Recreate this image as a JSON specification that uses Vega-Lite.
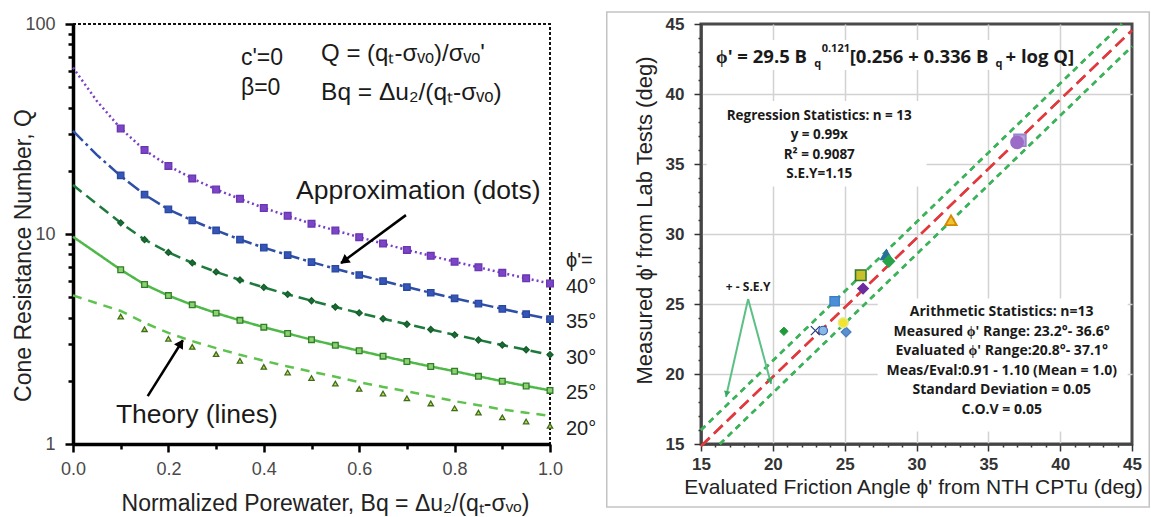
{
  "$schema": "https://vega.github.io/schema/vega-lite/v6.json",
  "background": "white",
  "padding": {"left": 11, "top": 9, "right": 0, "bottom": 0},
  "bounds": "flush",
  "spacing": 151,
  "resolve": {"scale": {"color": "independent", "strokeDash": "independent", "shape": "independent", "fill": "independent", "stroke": "independent", "size": "independent", "strokeWidth": "independent"}},
  "datasets": {
    "theory": [
      {"phi":"40°","Bq":0,"Q":62},{"phi":"40°","Bq":0.05,"Q":43},{"phi":"40°","Bq":0.1,"Q":31.8},{"phi":"40°","Bq":0.15,"Q":25.1},{"phi":"40°","Bq":0.2,"Q":21.1},{"phi":"40°","Bq":0.25,"Q":18.4},{"phi":"40°","Bq":0.3,"Q":16.3},{"phi":"40°","Bq":0.35,"Q":14.7},{"phi":"40°","Bq":0.4,"Q":13.3},{"phi":"40°","Bq":0.45,"Q":12.2},{"phi":"40°","Bq":0.5,"Q":11.2},{"phi":"40°","Bq":0.55,"Q":10.4},{"phi":"40°","Bq":0.6,"Q":9.66},{"phi":"40°","Bq":0.65,"Q":9.0},{"phi":"40°","Bq":0.7,"Q":8.4},{"phi":"40°","Bq":0.75,"Q":7.87},{"phi":"40°","Bq":0.8,"Q":7.38},{"phi":"40°","Bq":0.85,"Q":6.94},{"phi":"40°","Bq":0.9,"Q":6.53},{"phi":"40°","Bq":0.95,"Q":6.15},{"phi":"40°","Bq":1,"Q":5.81},
      {"phi":"35°","Bq":0,"Q":31},{"phi":"35°","Bq":0.05,"Q":23.8},{"phi":"35°","Bq":0.1,"Q":18.9},{"phi":"35°","Bq":0.15,"Q":15.4},{"phi":"35°","Bq":0.2,"Q":13.1},{"phi":"35°","Bq":0.25,"Q":11.6},{"phi":"35°","Bq":0.3,"Q":10.4},{"phi":"35°","Bq":0.35,"Q":9.41},{"phi":"35°","Bq":0.4,"Q":8.61},{"phi":"35°","Bq":0.45,"Q":7.94},{"phi":"35°","Bq":0.5,"Q":7.35},{"phi":"35°","Bq":0.55,"Q":6.83},{"phi":"35°","Bq":0.6,"Q":6.38},{"phi":"35°","Bq":0.65,"Q":5.97},{"phi":"35°","Bq":0.7,"Q":5.59},{"phi":"35°","Bq":0.75,"Q":5.25},{"phi":"35°","Bq":0.8,"Q":4.94},{"phi":"35°","Bq":0.85,"Q":4.66},{"phi":"35°","Bq":0.9,"Q":4.4},{"phi":"35°","Bq":0.95,"Q":4.15},{"phi":"35°","Bq":1,"Q":3.93},
      {"phi":"30°","Bq":0,"Q":17.1},{"phi":"30°","Bq":0.05,"Q":13.9},{"phi":"30°","Bq":0.1,"Q":11.3},{"phi":"30°","Bq":0.15,"Q":9.4},{"phi":"30°","Bq":0.2,"Q":8.17},{"phi":"30°","Bq":0.25,"Q":7.29},{"phi":"30°","Bq":0.3,"Q":6.6},{"phi":"30°","Bq":0.35,"Q":6.04},{"phi":"30°","Bq":0.4,"Q":5.57},{"phi":"30°","Bq":0.45,"Q":5.16},{"phi":"30°","Bq":0.5,"Q":4.81},{"phi":"30°","Bq":0.55,"Q":4.49},{"phi":"30°","Bq":0.6,"Q":4.21},{"phi":"30°","Bq":0.65,"Q":3.95},{"phi":"30°","Bq":0.7,"Q":3.72},{"phi":"30°","Bq":0.75,"Q":3.51},{"phi":"30°","Bq":0.8,"Q":3.31},{"phi":"30°","Bq":0.85,"Q":3.13},{"phi":"30°","Bq":0.9,"Q":2.96},{"phi":"30°","Bq":0.95,"Q":2.81},{"phi":"30°","Bq":1,"Q":2.66},
      {"phi":"25°","Bq":0,"Q":9.7},{"phi":"25°","Bq":0.05,"Q":8.1},{"phi":"25°","Bq":0.1,"Q":6.76},{"phi":"25°","Bq":0.15,"Q":5.75},{"phi":"25°","Bq":0.2,"Q":5.09},{"phi":"25°","Bq":0.25,"Q":4.6},{"phi":"25°","Bq":0.3,"Q":4.2},{"phi":"25°","Bq":0.35,"Q":3.88},{"phi":"25°","Bq":0.4,"Q":3.6},{"phi":"25°","Bq":0.45,"Q":3.36},{"phi":"25°","Bq":0.5,"Q":3.14},{"phi":"25°","Bq":0.55,"Q":2.95},{"phi":"25°","Bq":0.6,"Q":2.78},{"phi":"25°","Bq":0.65,"Q":2.62},{"phi":"25°","Bq":0.7,"Q":2.47},{"phi":"25°","Bq":0.75,"Q":2.34},{"phi":"25°","Bq":0.8,"Q":2.22},{"phi":"25°","Bq":0.85,"Q":2.1},{"phi":"25°","Bq":0.9,"Q":1.99},{"phi":"25°","Bq":0.95,"Q":1.89},{"phi":"25°","Bq":1,"Q":1.8},
      {"phi":"20°","Bq":0,"Q":5.1},{"phi":"20°","Bq":0.05,"Q":4.68},{"phi":"20°","Bq":0.1,"Q":4.3},{"phi":"20°","Bq":0.15,"Q":3.78},{"phi":"20°","Bq":0.2,"Q":3.38},{"phi":"20°","Bq":0.25,"Q":3.09},{"phi":"20°","Bq":0.3,"Q":2.86},{"phi":"20°","Bq":0.35,"Q":2.66},{"phi":"20°","Bq":0.4,"Q":2.49},{"phi":"20°","Bq":0.45,"Q":2.34},{"phi":"20°","Bq":0.5,"Q":2.21},{"phi":"20°","Bq":0.55,"Q":2.09},{"phi":"20°","Bq":0.6,"Q":1.97},{"phi":"20°","Bq":0.65,"Q":1.87},{"phi":"20°","Bq":0.7,"Q":1.78},{"phi":"20°","Bq":0.75,"Q":1.69},{"phi":"20°","Bq":0.8,"Q":1.6},{"phi":"20°","Bq":0.85,"Q":1.53},{"phi":"20°","Bq":0.9,"Q":1.46},{"phi":"20°","Bq":0.95,"Q":1.41},{"phi":"20°","Bq":1,"Q":1.36}
    ],
    "approx": [
      {"phi":"40°","Bq":0.1,"Q":31.8},{"phi":"40°","Bq":0.15,"Q":25.1},{"phi":"40°","Bq":0.2,"Q":21.1},{"phi":"40°","Bq":0.25,"Q":18.4},{"phi":"40°","Bq":0.3,"Q":16.3},{"phi":"40°","Bq":0.35,"Q":14.7},{"phi":"40°","Bq":0.4,"Q":13.3},{"phi":"40°","Bq":0.45,"Q":12.2},{"phi":"40°","Bq":0.5,"Q":11.2},{"phi":"40°","Bq":0.55,"Q":10.4},{"phi":"40°","Bq":0.6,"Q":9.66},{"phi":"40°","Bq":0.65,"Q":9.0},{"phi":"40°","Bq":0.7,"Q":8.4},{"phi":"40°","Bq":0.75,"Q":7.87},{"phi":"40°","Bq":0.8,"Q":7.38},{"phi":"40°","Bq":0.85,"Q":6.94},{"phi":"40°","Bq":0.9,"Q":6.53},{"phi":"40°","Bq":0.95,"Q":6.15},{"phi":"40°","Bq":1,"Q":5.81},
      {"phi":"35°","Bq":0.1,"Q":19.0},{"phi":"35°","Bq":0.15,"Q":15.4},{"phi":"35°","Bq":0.2,"Q":13.1},{"phi":"35°","Bq":0.25,"Q":11.6},{"phi":"35°","Bq":0.3,"Q":10.4},{"phi":"35°","Bq":0.35,"Q":9.41},{"phi":"35°","Bq":0.4,"Q":8.61},{"phi":"35°","Bq":0.45,"Q":7.94},{"phi":"35°","Bq":0.5,"Q":7.35},{"phi":"35°","Bq":0.55,"Q":6.83},{"phi":"35°","Bq":0.6,"Q":6.38},{"phi":"35°","Bq":0.65,"Q":5.97},{"phi":"35°","Bq":0.7,"Q":5.59},{"phi":"35°","Bq":0.75,"Q":5.25},{"phi":"35°","Bq":0.8,"Q":4.94},{"phi":"35°","Bq":0.85,"Q":4.66},{"phi":"35°","Bq":0.9,"Q":4.4},{"phi":"35°","Bq":0.95,"Q":4.15},{"phi":"35°","Bq":1,"Q":3.93},
      {"phi":"30°","Bq":0.1,"Q":11.3},{"phi":"30°","Bq":0.15,"Q":9.4},{"phi":"30°","Bq":0.2,"Q":8.17},{"phi":"30°","Bq":0.25,"Q":7.29},{"phi":"30°","Bq":0.3,"Q":6.6},{"phi":"30°","Bq":0.35,"Q":6.04},{"phi":"30°","Bq":0.4,"Q":5.57},{"phi":"30°","Bq":0.45,"Q":5.16},{"phi":"30°","Bq":0.5,"Q":4.81},{"phi":"30°","Bq":0.55,"Q":4.49},{"phi":"30°","Bq":0.6,"Q":4.21},{"phi":"30°","Bq":0.65,"Q":3.95},{"phi":"30°","Bq":0.7,"Q":3.72},{"phi":"30°","Bq":0.75,"Q":3.51},{"phi":"30°","Bq":0.8,"Q":3.31},{"phi":"30°","Bq":0.85,"Q":3.13},{"phi":"30°","Bq":0.9,"Q":2.96},{"phi":"30°","Bq":0.95,"Q":2.81},{"phi":"30°","Bq":1,"Q":2.66},
      {"phi":"25°","Bq":0.1,"Q":6.76},{"phi":"25°","Bq":0.15,"Q":5.75},{"phi":"25°","Bq":0.2,"Q":5.09},{"phi":"25°","Bq":0.25,"Q":4.6},{"phi":"25°","Bq":0.3,"Q":4.2},{"phi":"25°","Bq":0.35,"Q":3.88},{"phi":"25°","Bq":0.4,"Q":3.6},{"phi":"25°","Bq":0.45,"Q":3.36},{"phi":"25°","Bq":0.5,"Q":3.14},{"phi":"25°","Bq":0.55,"Q":2.95},{"phi":"25°","Bq":0.6,"Q":2.78},{"phi":"25°","Bq":0.65,"Q":2.62},{"phi":"25°","Bq":0.7,"Q":2.47},{"phi":"25°","Bq":0.75,"Q":2.34},{"phi":"25°","Bq":0.8,"Q":2.22},{"phi":"25°","Bq":0.85,"Q":2.1},{"phi":"25°","Bq":0.9,"Q":1.99},{"phi":"25°","Bq":0.95,"Q":1.89},{"phi":"25°","Bq":1,"Q":1.8},
      {"phi":"20°","Bq":0.1,"Q":4.04},{"phi":"20°","Bq":0.15,"Q":3.52},{"phi":"20°","Bq":0.2,"Q":3.17},{"phi":"20°","Bq":0.25,"Q":2.9},{"phi":"20°","Bq":0.3,"Q":2.68},{"phi":"20°","Bq":0.35,"Q":2.49},{"phi":"20°","Bq":0.4,"Q":2.33},{"phi":"20°","Bq":0.45,"Q":2.19},{"phi":"20°","Bq":0.5,"Q":2.06},{"phi":"20°","Bq":0.55,"Q":1.94},{"phi":"20°","Bq":0.6,"Q":1.83},{"phi":"20°","Bq":0.65,"Q":1.74},{"phi":"20°","Bq":0.7,"Q":1.65},{"phi":"20°","Bq":0.75,"Q":1.56},{"phi":"20°","Bq":0.8,"Q":1.48},{"phi":"20°","Bq":0.85,"Q":1.41},{"phi":"20°","Bq":0.9,"Q":1.34},{"phi":"20°","Bq":0.95,"Q":1.28},{"phi":"20°","Bq":1,"Q":1.22}
    ],
    "diag": [
      {"line":"fit","ev":15,"me":14.85},{"line":"fit","ev":45,"me":44.55},
      {"line":"upper","ev":15,"me":16.0},{"line":"upper","ev":44.29,"me":45},
      {"line":"lower","ev":16.31,"me":15},{"line":"lower","ev":45,"me":43.4}
    ],
    "lab": [
      {"id":"A","ev":20.77,"me":23.05},
      {"id":"B","ev":23.5,"me":23.1},
      {"id":"C","ev":22.96,"me":23.1},
      {"id":"D","ev":24.3,"me":25.2},
      {"id":"E","ev":25.1,"me":23.0},
      {"id":"F","ev":24.9,"me":23.66},
      {"id":"G","ev":26.28,"me":26.1},
      {"id":"H","ev":26.12,"me":27.05},
      {"id":"I","ev":27.9,"me":28.52},
      {"id":"J","ev":28.07,"me":28.05},
      {"id":"K","ev":32.4,"me":30.98},
      {"id":"L","ev":37.2,"me":36.69},
      {"id":"M","ev":37.0,"me":36.55}
    ]
  },
  "hconcat": [
    {
      "width": 477,
      "height": 420,
      "view": {"stroke": "#111", "strokeWidth": 2, "strokeDash": [3, 2]},
      "layer": [
        {
          "data": {"name": "theory"},
          "mark": {"type": "line", "strokeWidth": 2.5},
          "encoding": {
            "x": {"field": "Bq", "type": "quantitative",
              "scale": {"domain": [0, 1], "nice": false, "zero": false},
              "axis": {
                "values": [0, 0.1, 0.2, 0.3, 0.4, 0.5, 0.6, 0.7, 0.8, 0.9, 1.0],
                "tickCount": 100,
                "format": ".1f",
                "labelExpr": "round(datum.value*10) % 2 == 0 ? datum.label : ''",
                "tickSize": {"condition": {"test": "round(datum.value*10) % 2 == 0", "value": 8}, "value": 5},
                "tickWidth": 2.5, "tickColor": "#000", "domainColor": "#000", "domainWidth": 3.5,
                "labelFont": "Liberation Sans", "labelFontSize": 18, "labelColor": "#4a4a4a", "labelPadding": 8,
                "labelOverlap": false, "labelFlush": false, "grid": false,
                "title": "Normalized Porewater, Bq = Δu₂/(qₜ-σᵥₒ)",
                "titleFont": "Liberation Sans", "titleFontSize": 23, "titleFontWeight": "normal", "titleColor": "#222",
                "titleX": 252, "titleY": 59, "titleBaseline": "middle", "titleAlign": "center"
              }
            },
            "y": {"field": "Q", "type": "quantitative",
              "scale": {"type": "log", "domain": [1, 100], "nice": false},
              "axis": {
                "values": [1, 2, 3, 4, 5, 6, 7, 8, 9, 10, 20, 30, 40, 50, 60, 70, 80, 90, 100],
                "tickCount": 100,
                "format": "d",
                "labelExpr": "(datum.value == 1 || datum.value == 10 || datum.value == 100) ? datum.label : ''",
                "tickSize": {"condition": {"test": "datum.value == 1 || datum.value == 10 || datum.value == 100", "value": 8}, "value": 5},
                "tickWidth": 2.5, "tickColor": "#000", "domainColor": "#000", "domainWidth": 3.5,
                "labelFont": "Liberation Sans", "labelFontSize": 18, "labelColor": "#4a4a4a", "labelPadding": 10,
                "labelOverlap": false, "labelFlush": false, "grid": false,
                "title": "Cone Resistance Number, Q",
                "titleFont": "Liberation Sans", "titleFontSize": 23, "titleFontWeight": "normal", "titleColor": "#222",
                "titleX": -50, "titleY": 231, "titleAngle": -90, "titleAlign": "center", "titleBaseline": "middle"
              }
            },
            "color": {"field": "phi", "type": "nominal",
              "scale": {"domain": ["40°", "35°", "30°", "25°", "20°"], "range": ["#7b3fc4", "#2f4fa6", "#1d7a3c", "#4fb848", "#5ec24e"]},
              "legend": null},
            "strokeDash": {"field": "phi", "type": "nominal",
              "scale": {"domain": ["40°", "35°", "30°", "25°", "20°"], "range": [[2, 3], [14, 4, 3, 4], [11, 6], [1, 0], [9, 7]]},
              "legend": null}
          }
        },
        {
          "data": {"name": "approx"},
          "mark": {"type": "point", "filled": true, "strokeWidth": 1.3, "opacity": 1},
          "encoding": {
            "x": {"field": "Bq", "type": "quantitative"},
            "y": {"field": "Q", "type": "quantitative"},
            "shape": {"field": "phi", "type": "nominal",
              "scale": {"domain": ["40°", "35°", "30°", "25°", "20°"], "range": ["square", "square", "diamond", "square", "triangle-up"]},
              "legend": null},
            "fill": {"field": "phi", "type": "nominal",
              "scale": {"domain": ["40°", "35°", "30°", "25°", "20°"], "range": ["#7b45c8", "#3556b8", "#1a6e35", "#8fd070", "#c9d84c"]},
              "legend": null},
            "stroke": {"field": "phi", "type": "nominal",
              "scale": {"domain": ["40°", "35°", "30°", "25°", "20°"], "range": ["#6a35b0", "#2a48a0", "#155c2a", "#2f7f2a", "#3b6e1c"]},
              "legend": null},
            "size": {"field": "phi", "type": "nominal",
              "scale": {"domain": ["40°", "35°", "30°", "25°", "20°"], "range": [45, 28, 45, 55, 55]},
              "legend": null}
          }
        },
        {
          "data": {"name": "approx"},
          "transform": [{"filter": "datum.Bq == 1"}],
          "mark": {"type": "text", "align": "left", "baseline": "middle", "dx": 16, "dy": 3, "font": "Liberation Sans", "fontSize": 20, "color": "#222"},
          "encoding": {
            "x": {"field": "Bq", "type": "quantitative"},
            "y": {"field": "Q", "type": "quantitative"},
            "text": {"field": "phi", "type": "nominal"}
          }
        },
        {
          "data": {"values": [{}]},
          "mark": {"type": "text", "text": "ϕ'=", "align": "left", "baseline": "middle", "dx": 16, "font": "Liberation Sans", "fontSize": 20, "color": "#222"},
          "encoding": {"x": {"datum": 1, "type": "quantitative"}, "y": {"datum": 7.4, "type": "quantitative"}}
        },
        {
          "data": {"values": [{}]},
          "mark": {"type": "text", "text": "c'=0", "align": "left", "baseline": "middle", "font": "Liberation Sans", "fontSize": 23, "color": "#1a1a1a"},
          "encoding": {"x": {"datum": 0.352, "type": "quantitative"}, "y": {"datum": 68.9, "type": "quantitative"}}
        },
        {
          "data": {"values": [{}]},
          "mark": {"type": "text", "text": "β=0", "align": "left", "baseline": "middle", "font": "Liberation Sans", "fontSize": 23, "color": "#1a1a1a"},
          "encoding": {"x": {"datum": 0.352, "type": "quantitative"}, "y": {"datum": 49.6, "type": "quantitative"}}
        },
        {
          "data": {"values": [{}]},
          "mark": {"type": "text", "text": "Q = (qₜ-σᵥₒ)/σᵥₒ'", "align": "left", "baseline": "middle", "font": "Liberation Sans", "fontSize": 24, "color": "#1a1a1a"},
          "encoding": {"x": {"datum": 0.52, "type": "quantitative"}, "y": {"datum": 72, "type": "quantitative"}}
        },
        {
          "data": {"values": [{}]},
          "mark": {"type": "text", "text": "Bq = Δu₂/(qₜ-σᵥₒ)", "align": "left", "baseline": "middle", "font": "Liberation Sans", "fontSize": 24.5, "color": "#1a1a1a"},
          "encoding": {"x": {"datum": 0.52, "type": "quantitative"}, "y": {"datum": 46.9, "type": "quantitative"}}
        },
        {
          "data": {"values": [{}]},
          "mark": {"type": "text", "text": "Approximation (dots)", "align": "left", "baseline": "middle", "font": "Liberation Sans", "fontSize": 26.5, "color": "#1a1a1a"},
          "encoding": {"x": {"datum": 0.4675, "type": "quantitative"}, "y": {"datum": 16.0, "type": "quantitative"}}
        },
        {
          "data": {"values": [{}]},
          "mark": {"type": "text", "text": "Theory (lines)", "align": "left", "baseline": "middle", "font": "Liberation Sans", "fontSize": 26.5, "color": "#1a1a1a"},
          "encoding": {"x": {"datum": 0.09, "type": "quantitative"}, "y": {"datum": 1.37, "type": "quantitative"}}
        },
        {
          "data": {"values": [{}]},
          "mark": {"type": "rule", "color": "#000", "strokeWidth": 2.5},
          "encoding": {"x": {"datum": 0.698, "type": "quantitative"}, "y": {"datum": 12.3, "type": "quantitative"}, "x2": {"datum": 0.562}, "y2": {"datum": 7.28}}
        },
        {
          "data": {"values": [{}]},
          "mark": {"type": "point", "shape": "triangle-up", "filled": true, "color": "#000", "opacity": 1, "size": 110, "angle": 233.6, "xOffset": 3, "yOffset": -2},
          "encoding": {"x": {"datum": 0.562, "type": "quantitative"}, "y": {"datum": 7.28, "type": "quantitative"}}
        },
        {
          "data": {"values": [{}]},
          "mark": {"type": "rule", "color": "#000", "strokeWidth": 2.5},
          "encoding": {"x": {"datum": 0.1566, "type": "quantitative"}, "y": {"datum": 1.69, "type": "quantitative"}, "x2": {"datum": 0.2303}, "y2": {"datum": 3.12}}
        },
        {
          "data": {"values": [{}]},
          "mark": {"type": "point", "shape": "triangle-up", "filled": true, "color": "#000", "opacity": 1, "size": 110, "angle": 32, "xOffset": -2, "yOffset": 3},
          "encoding": {"x": {"datum": 0.2303, "type": "quantitative"}, "y": {"datum": 3.12, "type": "quantitative"}}
        }
      ]
    },
    {
      "width": 431,
      "height": 420,
      "view": {"stroke": "#4a4a4a", "strokeWidth": 3},
      "layer": [
        {
          "data": {"name": "diag"},
          "mark": {"type": "line", "strokeWidth": 2.5},
          "encoding": {
            "x": {"field": "ev", "type": "quantitative",
              "scale": {"domain": [15, 45], "nice": false, "zero": false},
              "axis": {
                "values": [15,16,17,18,19,20,21,22,23,24,25,26,27,28,29,30,31,32,33,34,35,36,37,38,39,40,41,42,43,44,45],
                "tickCount": 100,
                "format": "d",
                "labelExpr": "datum.value % 5 == 0 ? datum.label : ''",
                "tickSize": {"condition": {"test": "datum.value % 5 == 0", "value": 7}, "value": 3},
                "tickWidth": 1.5, "tickColor": "#333", "domainColor": "#444", "domainWidth": 2.5,
                "labelFont": "Liberation Sans", "labelFontWeight": "bold", "labelFontSize": 17, "labelColor": "#333", "labelPadding": 5,
                "labelOverlap": false, "labelFlush": false,
                "grid": true, "gridColor": "#d2d2d2", "gridWidth": 1.5,
                "gridOpacity": {"condition": {"test": "datum.value % 5 == 0 && datum.value > 15 && datum.value < 45", "value": 1}, "value": 0},
                "title": "Evaluated Friction Angle ϕ' from NTH CPTu (deg)",
                "titleFont": "Liberation Sans", "titleFontSize": 21, "titleFontWeight": "normal", "titleColor": "#222",
                "titleX": 212, "titleY": 43, "titleBaseline": "middle", "titleAlign": "center"
              }
            },
            "y": {"field": "me", "type": "quantitative",
              "scale": {"domain": [15, 45], "nice": false, "zero": false},
              "axis": {
                "values": [15,16,17,18,19,20,21,22,23,24,25,26,27,28,29,30,31,32,33,34,35,36,37,38,39,40,41,42,43,44,45],
                "tickCount": 100,
                "format": "d",
                "labelExpr": "datum.value % 5 == 0 ? datum.label : ''",
                "tickSize": {"condition": {"test": "datum.value % 5 == 0", "value": 7}, "value": 3},
                "tickWidth": 1.5, "tickColor": "#333", "domainColor": "#444", "domainWidth": 2.5,
                "labelFont": "Liberation Sans", "labelFontWeight": "bold", "labelFontSize": 17, "labelColor": "#333", "labelPadding": 10,
                "labelOverlap": false, "labelFlush": false,
                "grid": true, "gridColor": "#d2d2d2", "gridWidth": 1.5,
                "gridOpacity": {"condition": {"test": "datum.value % 5 == 0 && datum.value > 15 && datum.value < 45", "value": 1}, "value": 0},
                "title": "Measured ϕ' from Lab Tests  (deg)",
                "titleFont": "Liberation Sans", "titleFontSize": 22, "titleFontWeight": "normal", "titleColor": "#222",
                "titleX": -57, "titleY": 196, "titleAngle": -90, "titleAlign": "center", "titleBaseline": "middle"
              }
            },
            "color": {"field": "line", "type": "nominal",
              "scale": {"domain": ["fit", "upper", "lower"], "range": ["#e03a3e", "#3cb25a", "#3cb25a"]},
              "legend": null},
            "strokeDash": {"field": "line", "type": "nominal",
              "scale": {"domain": ["fit", "upper", "lower"], "range": [[12, 6], [6, 5], [6, 5]]},
              "legend": null}
          }
        },
        {
          "data": {"values": [{}]},
          "mark": {"type": "rect", "filled": false, "color": "#c4c4c4", "strokeWidth": 1.5},
          "encoding": {"x": {"datum": 8.44, "type": "quantitative"}, "x2": {"datum": 46.2}, "y": {"datum": 10.5, "type": "quantitative"}, "y2": {"datum": 45.86}}
        },
        {
          "data": {"values": [{}]},
          "mark": {"type": "rect", "color": "white"},
          "encoding": {"x": {"datum": 16.0, "type": "quantitative"}, "x2": {"datum": 38.2}, "y": {"datum": 43.86, "type": "quantitative"}, "y2": {"datum": 41.71}}
        },
        {
          "data": {"values": [{}]},
          "mark": {"type": "rect", "color": "white"},
          "encoding": {"x": {"datum": 15.4, "type": "quantitative"}, "x2": {"datum": 30.7}, "y": {"datum": 39.5, "type": "quantitative"}, "y2": {"datum": 33.4}}
        },
        {
          "data": {"values": [{}]},
          "mark": {"type": "rect", "color": "white"},
          "encoding": {"x": {"datum": 27.3, "type": "quantitative"}, "x2": {"datum": 44.7}, "y": {"datum": 25.4, "type": "quantitative"}, "y2": {"datum": 15.9}}
        },
        {
          "data": {"name": "diag"},
          "mark": {"type": "line", "strokeWidth": 2.5},
          "encoding": {
            "x": {"field": "ev", "type": "quantitative"},
            "y": {"field": "me", "type": "quantitative"},
            "color": {"field": "line", "type": "nominal", "legend": null},
            "strokeDash": {"field": "line", "type": "nominal", "legend": null}
          }
        },
        {
          "data": {"values": [{}]},
          "mark": {"type": "rule", "color": "#5cbf86", "strokeWidth": 2},
          "encoding": {"x": {"datum": 18.28, "type": "quantitative"}, "y": {"datum": 25.36, "type": "quantitative"}, "x2": {"datum": 16.74}, "y2": {"datum": 18.36}}
        },
        {
          "data": {"values": [{}]},
          "mark": {"type": "rule", "color": "#5cbf86", "strokeWidth": 2},
          "encoding": {"x": {"datum": 18.28, "type": "quantitative"}, "y": {"datum": 25.36, "type": "quantitative"}, "x2": {"datum": 19.88}, "y2": {"datum": 19.29}}
        },
        {
          "data": {"values": [{}]},
          "mark": {"type": "point", "shape": "triangle-up", "filled": true, "color": "#3aa860", "opacity": 1, "size": 45, "angle": 192.6, "xOffset": 0.7, "yOffset": -3},
          "encoding": {"x": {"datum": 16.74, "type": "quantitative"}, "y": {"datum": 18.36, "type": "quantitative"}}
        },
        {
          "data": {"values": [{}]},
          "mark": {"type": "point", "shape": "triangle-up", "filled": true, "color": "#3aa860", "opacity": 1, "size": 45, "angle": 165, "xOffset": -0.8, "yOffset": -3},
          "encoding": {"x": {"datum": 19.88, "type": "quantitative"}, "y": {"datum": 19.29, "type": "quantitative"}}
        },
        {
          "data": {"name": "lab"},
          "mark": {"type": "point", "filled": true, "opacity": 1},
          "encoding": {
            "x": {"field": "ev", "type": "quantitative"},
            "y": {"field": "me", "type": "quantitative"},
            "shape": {"field": "id", "type": "nominal",
              "scale": {"domain": ["A","B","C","D","E","F","G","H","I","J","K","L","M"],
                "range": ["diamond","circle","M-1,-1L1,1M1,-1L-1,1","square","diamond","circle","diamond","square","triangle-up","diamond","triangle-up","square","circle"]},
              "legend": null},
            "fill": {"field": "id", "type": "nominal",
              "scale": {"domain": ["A","B","C","D","E","F","G","H","I","J","K","L","M"],
                "range": ["#1f9a3a","#8ab8e6","#1f3a80","#4a8fd8","#5a8fd0","#f2e529","#6a2c9e","#c8bf2a","#2a6ea0","#28a34a","#f1c232","#b9a6e0","#9a6cc8"]},
              "legend": null},
            "stroke": {"field": "id", "type": "nominal",
              "scale": {"domain": ["A","B","C","D","E","F","G","H","I","J","K","L","M"],
                "range": ["#1f9a3a","#2c5aa8","#1f3a80","#3a7cc4","#4a7fc0","#e8e8a0","#6a2c9e","#2f7a2a","#2a6ea0","#28a34a","#d48a00","#9c84cc","#9a6cc8"]},
              "legend": null},
            "size": {"field": "id", "type": "nominal",
              "scale": {"domain": ["A","B","C","D","E","F","G","H","I","J","K","L","M"],
                "range": [70,140,90,70,50,150,60,110,80,70,70,130,22]},
              "legend": null},
            "strokeWidth": {"field": "id", "type": "nominal",
              "scale": {"domain": ["A","B","C","D","E","F","G","H","I","J","K","L","M"],
                "range": [1,2,3.5,1,1,2,1,2,1,1,1.5,1.5,1]},
              "legend": null}
          }
        },
        {
          "data": {"values": [{}]},
          "mark": {"type": "text", "text": "ϕ' = 29.5 B", "align": "left", "baseline": "middle", "font": "Open Sans", "fontWeight": "bold", "fontSize": 18.5, "color": "#1a1a1a"},
          "encoding": {"x": {"datum": 16.05, "type": "quantitative"}, "y": {"datum": 42.64, "type": "quantitative"}}
        },
        {
          "data": {"values": [{}]},
          "mark": {"type": "text", "text": "q", "align": "left", "baseline": "middle", "font": "Open Sans", "fontWeight": "bold", "fontSize": 11, "color": "#1a1a1a"},
          "encoding": {"x": {"datum": 22.89, "type": "quantitative"}, "y": {"datum": 42.12, "type": "quantitative"}}
        },
        {
          "data": {"values": [{}]},
          "mark": {"type": "text", "text": "0.121", "align": "left", "baseline": "middle", "font": "Open Sans", "fontWeight": "bold", "fontSize": 11, "color": "#1a1a1a"},
          "encoding": {"x": {"datum": 23.4, "type": "quantitative"}, "y": {"datum": 43.2, "type": "quantitative"}}
        },
        {
          "data": {"values": [{}]},
          "mark": {"type": "text", "text": "[0.256 + 0.336 B", "align": "left", "baseline": "middle", "font": "Open Sans", "fontWeight": "bold", "fontSize": 18.5, "color": "#1a1a1a"},
          "encoding": {"x": {"datum": 25.35, "type": "quantitative"}, "y": {"datum": 42.64, "type": "quantitative"}}
        },
        {
          "data": {"values": [{}]},
          "mark": {"type": "text", "text": "q", "align": "left", "baseline": "middle", "font": "Open Sans", "fontWeight": "bold", "fontSize": 11, "color": "#1a1a1a"},
          "encoding": {"x": {"datum": 35.5, "type": "quantitative"}, "y": {"datum": 42.12, "type": "quantitative"}}
        },
        {
          "data": {"values": [{}]},
          "mark": {"type": "text", "text": "+ log Q]", "align": "left", "baseline": "middle", "font": "Open Sans", "fontWeight": "bold", "fontSize": 18.5, "color": "#1a1a1a"},
          "encoding": {"x": {"datum": 36.2, "type": "quantitative"}, "y": {"datum": 42.64, "type": "quantitative"}}
        },
        {
          "data": {"values": [{}]},
          "mark": {"type": "text", "text": ["Regression Statistics: n = 13", "y = 0.99x", "R² = 0.9087", "S.E.Y=1.15"], "align": "center", "baseline": "middle", "lineHeight": 19.3, "font": "Open Sans", "fontWeight": "bold", "fontSize": 13.5, "color": "#1a1a1a"},
          "encoding": {"x": {"datum": 23.23, "type": "quantitative"}, "y": {"datum": 38.43, "type": "quantitative"}}
        },
        {
          "data": {"values": [{}]},
          "mark": {"type": "text", "text": ["Arithmetic Statistics: n=13", "Measured ϕ' Range: 23.2°- 36.6°", "Evaluated ϕ' Range:20.8°- 37.1°", "Meas/Eval:0.91 - 1.10 (Mean = 1.0)", "Standard Deviation = 0.05", "C.O.V = 0.05"], "align": "center", "baseline": "middle", "lineHeight": 19.6, "font": "Open Sans", "fontWeight": "bold", "fontSize": 14, "color": "#1a1a1a"},
          "encoding": {"x": {"datum": 35.93, "type": "quantitative"}, "y": {"datum": 24.43, "type": "quantitative"}}
        },
        {
          "data": {"values": [{}]},
          "mark": {"type": "text", "text": "+ - S.E.Y", "align": "center", "baseline": "middle", "font": "Open Sans", "fontWeight": "bold", "fontSize": 12, "color": "#1a1a1a"},
          "encoding": {"x": {"datum": 18.28, "type": "quantitative"}, "y": {"datum": 26.21, "type": "quantitative"}}
        }
      ]
    }
  ]
}
